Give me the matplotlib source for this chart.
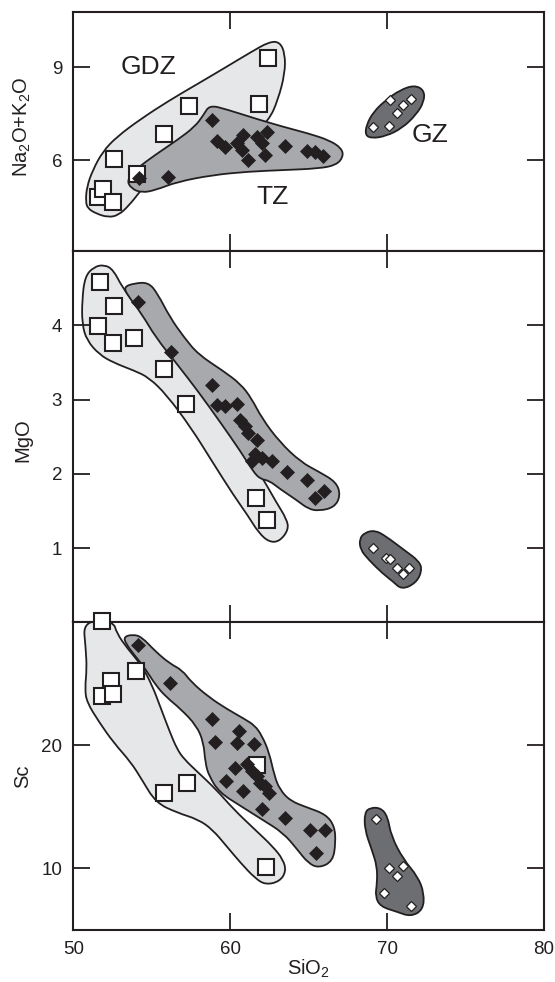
import matplotlib.pyplot as plt
from matplotlib.path import Path
from matplotlib.patches import PathPatch

plt.rcParams['font.family'] = ['Liberation Sans', 'DejaVu Sans']
plt.rcParams['mathtext.default'] = 'regular'

INK = "#231f20"
LIGHT = "#e6e7e8"
MID = "#a7a9ac"
DARK = "#6d6e71"

# ---- panel 1: Na2O+K2O vs SiO2 ----
gdz1_x = [62.43, 61.84, 57.37, 55.78, 52.59, 54.04, 51.59, 51.91, 52.55]
gdz1_y = [9.28, 7.81, 7.75, 6.85, 6.03, 5.56, 4.83, 5.07, 4.67]
tz1_x = [54.21, 56.05, 58.84, 59.14, 59.67, 60.41, 60.84, 60.73, 61.15, 61.69,
         62.01, 62.33, 62.22, 63.49, 64.88, 65.41, 65.93]
tz1_y = [5.42, 5.47, 7.30, 6.63, 6.44, 6.55, 6.81, 6.33, 6.01, 6.76,
         6.55, 6.92, 6.17, 6.46, 6.31, 6.28, 6.14]
gz1_x = [69.13, 70.11, 70.64, 71.01, 70.19, 71.50]
gz1_y = [7.06, 7.10, 7.51, 7.78, 7.94, 7.96]

# ---- panel 2: MgO vs SiO2 ----
gdz2_x = [51.69, 52.59, 51.60, 52.55, 53.86, 55.75, 57.17, 61.62, 62.36]
gdz2_y = [4.59, 4.26, 3.99, 3.77, 3.83, 3.41, 2.94, 1.68, 1.38]
tz2_x = [54.13, 56.23, 58.82, 59.14, 59.67, 60.41, 60.62, 60.94, 61.15, 61.69,
         61.58, 62.01, 61.37, 62.65, 63.60, 64.91, 65.41, 65.97]
tz2_y = [4.32, 3.64, 3.20, 2.93, 2.92, 2.94, 2.73, 2.64, 2.55, 2.46,
         2.27, 2.21, 2.18, 2.18, 2.03, 1.92, 1.68, 1.77]
gz2_x = [69.13, 69.92, 70.19, 70.60, 71.01, 71.39]
gz2_y = [1.00, 0.87, 0.85, 0.73, 0.65, 0.73]

# ---- panel 3: Sc vs SiO2 ----
gdz3_x = [51.80, 54.00, 52.43, 51.80, 52.54, 55.75, 57.24, 61.69, 62.30]
gdz3_y = [30.1, 26.02, 25.20, 24.00, 24.19, 16.16, 16.98, 18.40, 10.09]
tz3_x = [54.13, 56.16, 58.82, 60.58, 59.03, 60.41, 61.52, 60.31, 61.05, 61.37,
         61.69, 61.90, 62.22, 59.73, 60.83, 62.50, 62.03, 63.49, 65.07, 66.04, 65.47]
tz3_y = [28.14, 25.09, 22.15, 21.19, 20.25, 20.19, 20.11, 18.20, 18.47, 17.92,
         17.52, 16.98, 16.70, 17.11, 16.29, 16.10, 14.85, 14.12, 13.16, 13.11, 11.26]
gz3_x = [69.31, 70.15, 71.01, 70.60, 69.81, 71.50]
gz3_y = [13.98, 10.03, 10.17, 9.35, 7.99, 6.98]

# ---- hand-drawn field outlines (x, y vertices) ----
env_gdz1 = [(50.79, 4.67), (50.86, 5.15), (51.24, 5.69), (51.87, 6.28), (52.77, 6.76),
            (54.35, 7.35), (56.16, 7.94), (57.96, 8.47), (59.77, 9.01), (61.35, 9.49),
            (62.48, 9.81), (63.15, 9.81), (63.49, 9.44), (63.49, 8.80), (63.04, 7.94),
            (62.48, 7.30), (61.13, 6.65), (57.74, 6.12), (54.80, 5.37), (54.24, 4.99),
            (53.56, 4.56), (52.89, 4.24), (52.21, 4.17), (51.42, 4.30), (50.92, 4.46)]
env_tz1 = [(53.41, 5.37), (54.04, 5.74), (55.28, 6.20), (56.61, 6.65), (57.74, 7.08),
           (58.30, 7.46), (58.68, 7.78), (59.77, 7.64), (61.57, 7.35), (63.38, 7.08),
           (64.96, 6.87), (66.31, 6.65), (67.10, 6.39), (67.21, 6.12), (66.76, 5.85),
           (65.64, 5.74), (63.38, 5.69), (61.13, 5.64), (58.87, 5.53), (56.61, 5.31),
           (55.26, 5.05), (54.36, 4.96), (53.68, 5.10)]
env_gz1 = [(68.61, 6.81), (68.68, 7.14), (69.13, 7.56), (69.92, 7.94), (70.82, 8.26),
           (71.73, 8.42), (72.36, 8.26), (72.36, 7.89), (71.84, 7.46), (70.94, 7.03),
           (69.92, 6.78), (69.02, 6.71)]

env_gdz2 = [(51.31, 4.79), (51.98, 4.82), (52.55, 4.75), (53.11, 4.52), (53.99, 4.27),
            (55.71, 3.80), (57.06, 3.48), (58.53, 3.07), (59.88, 2.66), (61.12, 2.25),
            (62.02, 1.96), (62.93, 1.62), (63.60, 1.39), (63.72, 1.25), (63.15, 1.09),
            (62.48, 1.08), (61.80, 1.21), (61.12, 1.44), (60.22, 1.71), (58.87, 2.16),
            (57.51, 2.62), (55.93, 3.07), (54.80, 3.30), (53.90, 3.39), (52.55, 3.50),
            (51.65, 3.61), (50.86, 3.80), (50.56, 4.02), (50.56, 4.34), (50.74, 4.66)]
env_tz2 = [(53.22, 4.52), (53.90, 4.57), (54.80, 4.58), (55.37, 4.43), (56.16, 4.11),
           (57.06, 3.84), (57.96, 3.61), (59.54, 3.39), (60.67, 3.21), (61.35, 3.02),
           (62.02, 2.75), (63.15, 2.43), (64.50, 2.16), (65.64, 2.03), (66.76, 1.89),
           (67.03, 1.71), (66.65, 1.55), (65.64, 1.50), (64.96, 1.53), (64.28, 1.64),
           (63.15, 1.80), (62.48, 1.91), (61.92, 1.93), (61.47, 2.03), (60.67, 2.30),
           (59.32, 2.71), (57.96, 3.11), (56.61, 3.48), (55.25, 3.84), (54.35, 4.16),
           (53.45, 4.41)]
env_gz2 = [(68.23, 1.12), (68.57, 1.21), (69.24, 1.24), (69.92, 1.16), (71.05, 0.98),
           (72.07, 0.82), (72.22, 0.69), (71.84, 0.53), (70.94, 0.44), (70.37, 0.55),
           (69.70, 0.66), (68.79, 0.85), (68.30, 0.98)]

env_gdz3 = [(50.63, 30.10), (52.55, 30.10), (52.77, 29.10), (53.45, 27.87), (54.35, 26.51),
            (55.03, 24.87), (55.59, 22.97), (56.16, 21.06), (56.61, 19.70), (57.06, 18.88),
            (57.96, 17.79), (59.09, 16.43), (60.22, 14.80), (61.57, 13.16), (62.70, 11.80),
            (63.38, 10.71), (63.56, 9.76), (63.15, 8.94), (62.25, 8.67), (61.57, 9.22),
            (60.67, 10.44), (59.77, 11.80), (58.87, 13.16), (57.96, 13.98), (56.61, 14.53),
            (55.26, 15.34), (54.35, 17.25), (53.68, 18.61), (52.55, 20.25), (51.65, 21.88),
            (50.86, 23.51), (50.74, 24.60), (50.86, 26.24), (50.79, 27.87)]
env_tz3 = [(53.22, 28.82), (53.79, 29.01), (54.35, 28.82), (55.26, 27.60), (56.16, 26.64),
           (56.95, 26.10), (57.51, 25.15), (58.64, 23.92), (59.77, 22.97), (60.90, 22.15),
           (61.57, 21.61), (62.02, 20.79), (62.48, 19.43), (62.82, 17.52), (63.15, 16.43),
           (63.83, 15.48), (64.96, 14.93), (66.09, 14.39), (66.65, 13.44), (66.72, 12.08),
           (66.54, 10.58), (65.64, 10.03), (64.96, 10.44), (64.28, 11.53), (63.38, 12.89),
           (62.02, 13.98), (60.67, 15.07), (59.32, 16.16), (58.64, 17.52), (58.41, 18.61),
           (58.30, 20.25), (57.85, 21.61), (56.83, 22.97), (55.93, 23.92), (55.26, 24.87),
           (54.58, 26.24), (53.90, 27.33), (53.34, 28.28)]
env_gz3 = [(68.57, 14.53), (68.91, 14.93), (69.58, 14.93), (70.03, 14.25), (70.26, 12.62),
           (71.05, 10.71), (71.95, 9.35), (72.36, 7.99), (72.29, 6.63), (71.50, 6.08),
           (70.60, 6.49), (69.58, 6.90), (69.24, 7.72), (69.36, 8.81), (69.36, 10.17),
           (69.02, 11.53), (68.57, 13.16)]


def field(pts, color):
    # closed outline smoothed with quadratic curves through edge midpoints
    n = len(pts)
    mids = [((pts[i][0] + pts[(i + 1) % n][0]) / 2, (pts[i][1] + pts[(i + 1) % n][1]) / 2)
            for i in range(n)]
    verts = [mids[-1]]
    codes = [Path.MOVETO]
    for i in range(n):
        verts += [pts[i], mids[i]]
        codes += [Path.CURVE3, Path.CURVE3]
    return PathPatch(Path(verts, codes), facecolor=color, edgecolor=INK,
                     lw=1.3, joinstyle="round", zorder=1)


fig = plt.figure(figsize=(5.55, 9.82), dpi=100)
ax1 = fig.add_axes([0.1321, 0.7441, 0.8481, 0.2437])
ax2 = fig.add_axes([0.1321, 0.3663, 0.8481, 0.3778])
ax3 = fig.add_axes([0.1321, 0.0530, 0.8481, 0.3133])

panels = [
    (ax1, env_gdz1, env_tz1, env_gz1, gdz1_x, gdz1_y, tz1_x, tz1_y, gz1_x, gz1_y,
     (3.08, 10.77), [6, 9], "Na$_2$O+K$_2$O", 0.52),
    (ax2, env_gdz2, env_tz2, env_gz2, gdz2_x, gdz2_y, tz2_x, tz2_y, gz2_x, gz2_y,
     (0, 5), [1, 2, 3, 4], "MgO", 0.49),
    (ax3, env_gdz3, env_tz3, env_gz3, gdz3_x, gdz3_y, tz3_x, tz3_y, gz3_x, gz3_y,
     (5, 30), [10, 20], "Sc", 0.5),
]

for ax, eg, et, ez, gx, gy, tx, ty, zx, zy, ylim, yt, lab, ly in panels:
    ax.add_patch(field(eg, LIGHT))
    ax.add_patch(field(et, MID))
    ax.add_patch(field(ez, DARK))
    ax.plot(gx, gy, "s", ms=11, mfc="white", mec=INK, mew=1.5, zorder=3, clip_on=False)
    ax.plot(tx, ty, "D", ms=7.3, mfc=INK, mec=INK, mew=0.5, zorder=4)
    ax.plot(zx, zy, "D", ms=5.2, mfc="white", mec=INK, mew=0.9, zorder=4)
    ax.set_xlim(50, 80)
    ax.set_ylim(*ylim)
    ax.set_xticks([50, 60, 70, 80])
    ax.set_yticks(yt)
    ax.tick_params(direction="in", length=12, width=1.3, top=True, right=True,
                   labelsize=13.5, pad=8, colors=INK)
    for s in ax.spines.values():
        s.set_linewidth(1.5)
        s.set_color(INK)
    ax.set_ylabel(lab, fontsize=14.5, color=INK)
    ax.yaxis.set_label_coords(-0.096, ly)
    ax.yaxis.label.set_va("baseline")

ax1.tick_params(labelbottom=False)
ax2.tick_params(labelbottom=False)
ax3.set_xlabel("SiO$_2$", fontsize=14.5, color=INK, labelpad=0)

ax1.text(54.81, 9.01, "GDZ", fontsize=19, ha="center", va="center", color=INK, zorder=5)
ax1.text(62.70, 4.83, "TZ", fontsize=19, ha="center", va="center", color=INK, zorder=5)
ax1.text(72.74, 6.81, "GZ", fontsize=19, ha="center", va="center", color=INK, zorder=5)

plt.savefig("out.png", dpi=100)
